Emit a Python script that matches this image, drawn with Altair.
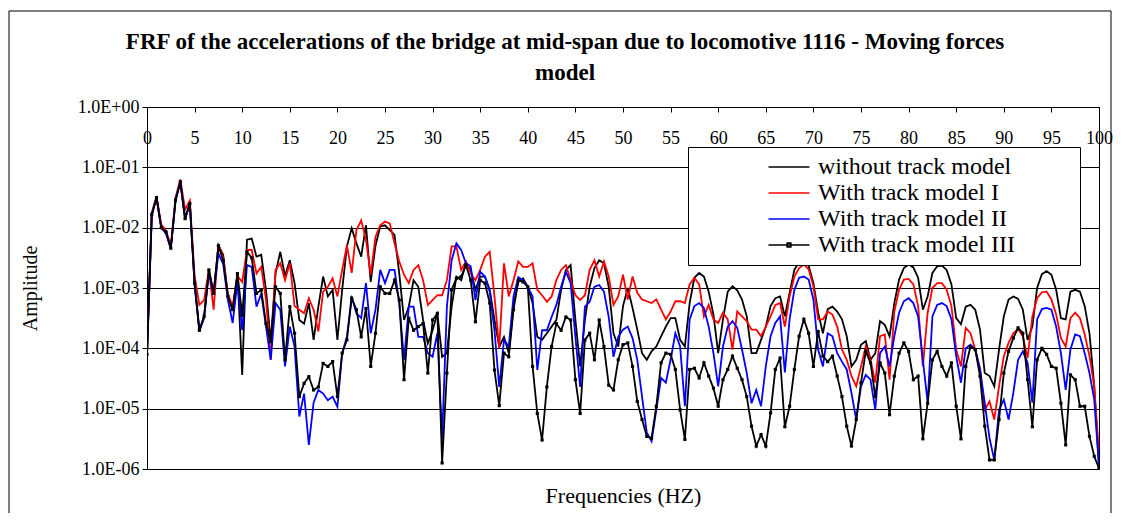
import altair as alt
import pandas as pd

# Frequencies (Hz), one reading every 0.5 Hz
freq = [i * 0.5 for i in range(201)]

# log10(amplitude), one value per frequency above
log_without = [
    -4.1, -1.78, -1.5, -2.0, -2.07, -2.34, -1.54, -1.24, -1.85, -1.6,
    -2.92, -3.7, -3.47, -2.7, -3.09, -2.29, -2.45, -3.14, -3.36, -2.76,
    -4.44, -2.2, -2.18, -2.48, -2.45, -3.03, -3.89, -2.76, -2.4, -2.8,
    -2.54, -2.92, -3.53, -3.59, -3.25, -3.86, -3.31, -2.81, -3.14, -3.03,
    -3.86, -3.03, -2.31, -2.01, -2.26, -2.48, -1.96, -2.9, -2.3, -1.98,
    -1.96, -2.04, -2.12, -2.76, -3.53, -3.31, -2.87, -2.98, -3.53, -3.92,
    -3.7, -3.42, -4.14, -4.08, -3.31, -2.81, -2.87, -2.59, -2.7, -3.03,
    -2.81, -2.81, -3.03, -3.53, -3.97, -3.81, -4.08, -3.31, -2.9, -2.84,
    -2.98, -3.25, -3.81, -3.86, -3.75, -3.64, -3.53, -3.03, -2.7, -2.62,
    -3.53, -4.3, -3.53, -2.98, -2.67, -2.54, -2.59, -2.98, -3.75, -3.97,
    -3.3, -3.0, -3.33, -3.69, -4.08, -4.19, -4.05, -3.97, -3.8, -3.64,
    -3.5, -3.5, -3.86, -3.97, -3.25, -2.83, -2.75, -2.81, -3.06, -3.44,
    -4.08, -3.52, -3.06, -2.97, -3.04, -3.19, -3.47, -4.08, -4.08, -3.86,
    -3.64, -3.3, -3.17, -3.14, -3.47, -3.08, -2.7, -2.57, -2.56, -2.63,
    -2.92, -3.41, -3.75, -3.35, -3.31, -3.39, -3.52, -3.8, -4.3, -4.19,
    -3.94, -3.88, -4.19, -4.08, -3.55, -3.61, -3.8, -3.25, -2.86, -2.67,
    -2.61, -2.66, -2.83, -3.36, -3.14, -2.75, -2.64, -2.63, -2.7, -2.94,
    -3.5, -3.6, -3.31, -3.28, -3.36, -3.69, -4.41, -4.46, -4.63, -4.02,
    -3.47, -3.19, -3.14, -3.18, -3.36, -3.86, -3.64, -3.0, -2.77, -2.72,
    -2.78, -3.03, -3.5, -3.52, -3.06, -3.03, -3.06, -3.3, -3.75, -4.63,
    -5.96,
]
log_model_I = [
    -4.1, -1.75, -1.48, -1.95, -2.05, -2.3, -1.5, -1.2, -1.7, -1.55,
    -2.8, -3.28, -3.2, -2.7, -3.36, -2.27, -2.5, -3.1, -3.3, -2.8,
    -2.9, -2.37, -2.37, -2.76, -2.65, -3.2, -4.19, -2.7, -2.59, -2.87,
    -2.59, -3.3, -3.36, -3.42, -3.17, -3.36, -3.72, -3.06, -2.98, -2.84,
    -3.14, -2.7, -2.29, -2.75, -2.04, -1.88, -2.2, -2.78, -2.15, -1.96,
    -1.9, -1.93, -2.26, -2.56, -2.78, -2.92, -2.7, -2.62, -2.87, -3.28,
    -3.2, -3.12, -3.12, -2.87, -2.31, -2.31, -2.7, -2.56, -2.76, -2.87,
    -2.7, -2.48, -2.4, -3.14, -4.0, -2.59, -3.14, -2.87, -2.56, -2.65,
    -2.65, -2.59, -3.03, -3.12, -3.23, -3.14, -2.87, -2.7, -2.62, -2.87,
    -3.12, -3.2, -3.12, -2.7, -2.54, -2.81, -2.56, -2.81, -3.28, -3.14,
    -2.78, -3.19, -2.81, -3.08, -3.19, -3.22, -3.25, -3.19, -3.36, -3.52,
    -3.39, -3.22, -3.22, -3.25, -2.94, -2.83, -2.94, -3.47, -3.28, -3.52,
    -3.58, -3.41, -3.52, -4.02, -3.39, -3.47, -3.55, -3.69, -3.69, -3.8,
    -3.64, -3.47, -3.28, -3.25, -3.64, -3.14, -2.81, -2.67, -2.61, -2.69,
    -2.97, -3.52, -3.52, -3.39, -3.44, -3.64, -4.02, -4.19, -4.46, -4.63,
    -4.3, -3.97, -4.19, -4.57, -3.8, -3.77, -4.52, -3.39, -3.03, -2.86,
    -2.85, -2.94, -3.3, -4.3, -3.41, -3.0, -2.92, -2.92, -3.03, -3.3,
    -4.02, -4.3, -3.66, -3.75, -4.02, -4.33, -5.02, -4.88, -5.18, -4.63,
    -4.13, -3.91, -3.75, -3.68, -3.8, -4.16, -3.47, -3.17, -3.07, -3.06,
    -3.19, -3.44, -3.83, -3.97, -3.5, -3.41, -3.5, -3.77, -4.13, -4.63,
    -5.73,
]
log_model_II = [
    -4.1, -1.8, -1.5, -2.0, -2.1, -2.35, -1.55, -1.24, -1.85, -1.6,
    -2.95, -3.72, -3.5, -2.75, -3.1, -2.43, -2.6, -3.2, -3.58, -2.9,
    -3.7, -2.62, -2.65, -3.31, -3.09, -3.64, -4.19, -3.25, -3.36, -4.3,
    -3.64, -3.97, -5.13, -4.75, -5.6, -4.9, -4.69, -4.75, -4.86, -4.8,
    -4.97, -4.08, -3.81, -3.14, -3.42, -3.5, -2.92, -3.75, -3.36, -2.7,
    -2.92, -2.7, -2.7, -3.25, -4.19, -3.31, -3.31, -3.81, -3.81, -4.08,
    -4.14, -3.75, -5.5, -3.31, -2.54, -2.26, -2.37, -2.59, -2.64, -3.2,
    -2.73, -2.81, -3.06, -3.7, -4.64, -3.86, -3.97, -3.14, -2.82, -2.87,
    -2.98, -3.14, -4.36, -3.7, -3.7, -3.48, -3.28, -2.98, -2.73, -2.92,
    -3.81, -4.64, -3.31, -3.23, -2.98, -2.95, -3.06, -3.48, -4.14, -3.81,
    -3.69, -3.64, -3.83, -4.19, -4.8, -5.4, -5.54, -5.02, -4.49, -4.57,
    -4.19, -3.75, -3.97, -4.96, -3.52, -3.3, -3.25, -3.33, -3.64, -4.08,
    -4.63, -3.97, -3.64, -3.55, -3.66, -4.02, -4.41, -4.91, -4.69, -4.96,
    -4.3, -3.8, -3.58, -3.47, -4.4, -3.52, -3.03, -2.83, -2.81, -2.86,
    -3.19, -4.02, -4.3, -3.75, -3.8, -4.08, -4.22, -4.35, -4.74, -5.18,
    -4.63, -4.44, -4.52, -5.02, -4.08, -3.97, -4.3, -3.8, -3.41, -3.22,
    -3.17, -3.25, -3.47, -4.19, -4.9, -3.47, -3.28, -3.25, -3.3, -3.52,
    -4.13, -4.57, -4.0, -3.94, -4.02, -4.35, -4.91, -5.49, -5.85, -5.02,
    -4.85, -5.18, -4.74, -4.19, -4.05, -4.24, -4.9, -3.52, -3.35, -3.33,
    -3.36, -3.64, -4.08, -4.69, -4.02, -3.77, -3.8, -4.08, -4.41, -4.85,
    -5.96,
]
log_model_III = [
    -4.1, -1.78, -1.5, -2.0, -2.07, -2.34, -1.54, -1.24, -1.85, -1.6,
    -2.92, -3.7, -3.47, -2.7, -3.09, -2.3, -2.54, -3.14, -3.36, -2.76,
    -3.45, -2.4, -2.5, -3.09, -3.03, -3.59, -3.89, -2.98, -3.09, -4.19,
    -3.31, -3.75, -4.8, -4.58, -4.47, -4.69, -4.64, -4.25, -4.3, -4.22,
    -4.8, -4.08, -3.86, -3.17, -3.36, -3.81, -3.34, -4.3, -3.75, -2.98,
    -3.09, -3.09, -2.87, -3.2, -4.52, -3.5, -3.7, -3.64, -3.59, -4.41,
    -3.53, -3.42, -5.9, -4.41, -3.03, -2.84, -2.81, -2.62, -2.87, -3.56,
    -2.87, -2.92, -3.25, -4.36, -4.95, -4.08, -4.14, -3.36, -2.87, -2.9,
    -2.98, -4.3, -5.08, -5.52, -4.64, -3.97, -3.59, -3.7, -3.48, -3.53,
    -4.52, -5.08, -3.86, -3.75, -4.19, -3.53, -3.97, -4.61, -4.69, -4.19,
    -3.94, -3.91, -4.3, -4.88, -5.18, -5.46, -5.49, -4.96, -4.24, -4.08,
    -4.1, -4.35, -5.02, -5.51, -4.35, -4.33, -4.49, -4.24, -4.46, -4.66,
    -4.96, -4.52, -4.35, -4.13, -4.33, -4.52, -4.8, -5.29, -5.62, -5.43,
    -5.62, -5.07, -4.35, -4.16, -5.3, -4.96, -4.35, -3.8, -3.52, -3.75,
    -4.3, -3.72, -4.13, -4.22, -4.13, -4.46, -4.8, -5.29, -5.62, -5.18,
    -4.57, -4.05, -4.24, -4.8, -4.24, -4.41, -5.1, -4.46, -4.08, -3.91,
    -4.05, -4.52, -4.46, -5.5, -4.91, -4.19, -4.05, -4.3, -4.46, -4.24,
    -4.96, -5.5, -4.3, -3.97, -4.02, -4.46, -5.29, -5.85, -5.85, -5.18,
    -4.41, -4.05, -3.83, -3.66, -3.75, -4.52, -5.3, -4.19, -4.0, -4.1,
    -4.3, -4.33, -4.91, -5.6, -4.44, -4.52, -4.96, -4.96, -5.46, -5.79,
    -5.99,
]

series_names = ["without track model", "With track model I",
                "With track model II", "With track model III"]
series_colors = ["#000000", "#FF0000", "#0000FF", "#000000"]
legend_shapes = ["M-2,0H2", "M-2,0H2", "M-2,0H2",
                 "M-2,0H2M-0.18,-0.18H0.18V0.18H-0.18Z"]

x_ticks = [0, 5, 10, 15, 20, 25, 30, 35, 40, 45, 50,
           55, 60, 65, 70, 75, 80, 85, 90, 95, 100]
y_ticks = [1e-6, 1e-5, 1e-4, 1e-3, 1e-2, 1e-1, 1.0]
y_tick_labels = ["1.0E-06", "1.0E-05", "1.0E-04", "1.0E-03",
                 "1.0E-02", "1.0E-01", "1.0E+00"]

title_lines = ["FRF of the accelerations of the bridge at mid-span due to locomotive 1116 - Moving forces",
               "model"]

rows = []
for k, (name, col, vals) in enumerate(zip(series_names, series_colors,
                                          [log_without, log_model_I, log_model_II, log_model_III])):
    for f, v in zip(freq, vals):
        rows.append({"freq": f, "series": name, "order": k, "col": col, "amp": 10 ** v})
df = pd.DataFrame(rows)

W, H = 952, 362
FONT = "Liberation Serif"

label_expr = "[" + ",".join("'%s'" % s for s in y_tick_labels) + "][round(log(datum.value)/LN10) + 6]"

x_enc = alt.X("freq:Q",
              scale=alt.Scale(domain=[0, 100], nice=False),
              axis=alt.Axis(orient="bottom", offset=-H, values=x_ticks, grid=False,
                            tickSize=5, tickColor="black", domainColor="black",
                            labelFont=FONT, labelFontSize=18, labelColor="black",
                            labelPadding=17, labelFlush=False,
                            title="Frequencies (HZ)", titleFont=FONT, titleFontSize=22,
                            titleFontWeight="normal", titleColor="black",
                            titleY=H + 16))
y_enc = alt.Y("amp:Q",
              scale=alt.Scale(type="log", domain=[1e-6, 1], nice=False),
              axis=alt.Axis(values=y_ticks, labelExpr=label_expr, grid=True,
                            gridColor="black", gridWidth=1,
                            tickSize=5, tickColor="black", domainColor="black",
                            labelFont=FONT, labelFontSize=18, labelColor="black",
                            labelPadding=3,
                            title="Amplitude", titleFont=FONT, titleFontSize=20,
                            titleFontWeight="normal", titleColor="black",
                            titleX=-107, titleY=H / 2))

lines = alt.Chart(df).mark_line(strokeWidth=1.8, clip=True).encode(
    x=x_enc,
    y=y_enc,
    stroke=alt.Stroke("col:N", scale=None),
    detail="order:O",
)

dots = alt.Chart(df[df["series"] == series_names[3]]).mark_point(
    shape="square", filled=True, size=10, color="black", opacity=1, clip=True
).encode(x="freq:Q", y="amp:Q")

# legend: a blank (Braille blank) title on the right only widens the box like the reference
legend_def = alt.Legend(title="\u2800" * 3, titleOrient="right", titleFont="DejaVu Sans",
                        titleFontSize=24, titlePadding=0,
                        orient="none", legendX=541, legendY=40,
                        direction="vertical", fillColor="white", strokeColor="black",
                        padding=8, symbolSize=420, symbolStrokeWidth=1.6,
                        symbolOffset=81, labelFont=FONT, labelFontSize=24,
                        labelColor="black", labelOffset=17, labelLimit=400,
                        rowPadding=2, symbolOpacity=1)

legend_layer = alt.Chart(df).transform_filter("datum.freq > 1000").mark_point(
    filled=False, strokeWidth=1.6, opacity=1
).encode(
    x="freq:Q",
    y="amp:Q",
    color=alt.Color("series:N",
                    scale=alt.Scale(domain=series_names, range=series_colors),
                    legend=legend_def),
    shape=alt.Shape("series:N",
                    scale=alt.Scale(domain=series_names, range=legend_shapes),
                    legend=legend_def),
)

frame = alt.Chart(pd.DataFrame({"k": [0]})).mark_rect(
    fillOpacity=0, stroke="black", strokeWidth=1
).encode(x=alt.value(-138), x2=alt.value(964), y=alt.value(-96), y2=alt.value(430))

chart = alt.layer(frame, lines, dots, legend_layer).properties(
    width=W, height=H,
    padding={"left": 139, "top": 99, "right": 14, "bottom": 44},
    autosize=alt.AutoSizeParams(type="none"),
    title=alt.Title(text=title_lines, font=FONT, fontSize=23, fontWeight="bold",
                    color="black", anchor="middle", dx=-58, offset=-74, lineHeight=31),
).configure_view(stroke="black", strokeWidth=1)

chart.save("out.html", embed_options={"renderer": "svg", "actions": False})
